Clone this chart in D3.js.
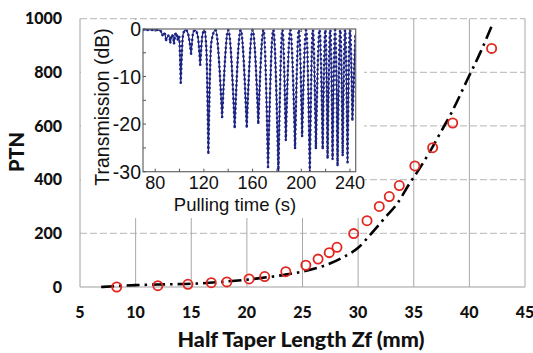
<!DOCTYPE html>
<html><head><meta charset="utf-8">
<script src="https://cdn.jsdelivr.net/npm/d3@7"></script>
<style>
html,body{margin:0;padding:0;background:#fff;}
svg{display:block;}
</style></head>
<body><svg id="chart" width="533" height="353"></svg>
<script>
// ---- main chart data ----
const measZf  = [8.3, 12.0, 14.7, 16.8, 18.2, 20.2, 21.6, 23.5, 25.3, 26.4, 27.4, 28.1, 29.6, 30.8, 31.9, 32.8, 33.7, 35.1, 36.7, 38.5, 42.0];
const measPtn = [0, 5, 10, 16, 19, 30, 39, 57, 81, 104, 128, 148, 199, 247, 300, 337, 378, 451, 519, 611, 889];
const fitZf  = [6.9, 10, 13, 15, 18, 21, 23.6, 25.7, 27, 28.7, 30, 31.2, 32.5, 33.5, 34.6, 35.5, 36.5, 37.4, 38.4, 39.8, 41, 42];
const fitPtn = [0, 7, 10, 12, 20, 32, 47, 64, 80, 112, 146, 200, 262, 310, 384, 440, 508, 575, 650, 771, 875, 972];
const xTickVals = [5, 10, 15, 20, 25, 30, 35, 40, 45];
const yTickVals = [0, 200, 400, 600, 800, 1000];
const xTitle = "Half Taper Length Zf (mm)";
const yTitle = "PTN";

// ---- inset data (transmission vs pulling time) ----
const insetTime = [70, 80, 84, 86, 87.5, 89, 91, 92.5, 94, 95.5, 97, 98.5, 99.6, 101, 103, 105, 107, 109.5, 111.5, 113, 115, 117, 119, 120.5, 122, 123.7, 126, 129.5,
  135, 140, 145.3, 150.2, 155.2, 160, 164.7, 169, 172.7, 177, 181.2, 184.5, 187.3, 191, 194.9, 198, 200.7, 204, 207, 209.5, 212, 215, 217.6, 219.8, 221.6, 223.8, 225.7, 227.8, 229.8, 232, 234, 236, 238, 240, 242, 244.5];
const insetDb = [-0.2, -0.2, -0.3, -1.3, -0.8, -2.3, -1.4, -2.8, -1.2, -3.0, -0.8, -2.2, -1.5, -11.3, -1.0, -0.2, -1.0, -5.2, -0.5, -0.3, -1.5, -7.5, -1.0, -0.3, -4.0, -26, -3.0, -0.2,
  -18.5, -0.2, -20.6, -0.2, -20.5, -0.2, -19.7, -0.2, -29, -0.2, -30, -0.2, -23.3, -0.2, -25, -0.2, -22.5, -0.2, -30, -0.2, -25, -0.2, -25, -0.2, -27, -0.2, -27.3, -0.2, -28.6, -0.2, -26.5, -0.2, -28, -0.2, -19, -1.0];
const insetXTicks = [80, 120, 160, 200, 240];
const insetYTicks = [0, -10, -20, -30];
const insetXTitle = "Pulling time (s)";
const insetYTitle = "Transmission (dB)";

const svg = d3.select("#chart");
const W = 533, H = 353;
const plot = {l: 80, r: 525, t: 18.6, b: 287};

const x = d3.scaleLinear().domain([5, 45]).range([plot.l, plot.r]);
const y = d3.scaleLinear().domain([0, 1000]).range([plot.b, plot.t]);

svg.append("rect").attr("width", W).attr("height", H).attr("fill", "#fff");

// horizontal dashed gridlines
svg.append("g").selectAll("line").data(yTickVals.filter(v => v > 0)).join("line")
  .attr("x1", plot.l).attr("x2", plot.r)
  .attr("y1", d => y(d)).attr("y2", d => y(d))
  .attr("stroke", "#c4c4c4").attr("stroke-width", 1.2).attr("stroke-dasharray", "7,3");
// vertical solid gridlines
svg.append("g").selectAll("line").data(xTickVals.filter(v => v > 5)).join("line")
  .attr("x1", d => x(d)).attr("x2", d => x(d))
  .attr("y1", plot.t).attr("y2", plot.b)
  .attr("stroke", "#a8a8a8").attr("stroke-width", 1);
// axis lines
svg.append("line").attr("x1", plot.l).attr("x2", plot.l).attr("y1", plot.t).attr("y2", plot.b)
  .attr("stroke", "#a0a0a0").attr("stroke-width", 1);
svg.append("line").attr("x1", plot.l).attr("x2", plot.r).attr("y1", plot.b).attr("y2", plot.b)
  .attr("stroke", "#a0a0a0").attr("stroke-width", 1.2);

// tick labels
const mainFont = "Lato, 'Open Sans', sans-serif";
svg.append("g").selectAll("text").data(yTickVals).join("text")
  .attr("x", 62).attr("y", d => y(d) + 5.8)
  .attr("text-anchor", "end").attr("font-family", mainFont).attr("font-weight", "900")
  .attr("font-size", 16).attr("fill", "#111").text(d => d);
svg.append("g").selectAll("text").data(xTickVals).join("text")
  .attr("x", d => x(d)).attr("y", 317.5)
  .attr("text-anchor", "middle").attr("font-family", mainFont).attr("font-weight", "900")
  .attr("font-size", 16).attr("fill", "#111").text(d => d);
svg.append("text").attr("x", 301).attr("y", 347).attr("text-anchor", "middle")
  .attr("font-family", mainFont).attr("font-weight", "900").attr("font-size", 21.5)
  .attr("fill", "#111").text(xTitle);
svg.append("text").attr("transform", "translate(24,152) rotate(-90)").attr("text-anchor", "middle")
  .attr("font-family", mainFont).attr("font-weight", "900").attr("font-size", 20)
  .attr("fill", "#111").text(yTitle);

// ---- inset ----
svg.append("rect").attr("x", 81).attr("y", 20).attr("width", 283).attr("height", 198).attr("fill", "#fff");
const ip = {l: 143, r: 355.7, t: 29, b: 171.7};
const ix = d3.scaleLinear().domain([70, 244.7]).range([ip.l, ip.r]);
const iy = d3.scaleLinear().domain([0, -30]).range([ip.t, ip.b]);

svg.append("defs").append("clipPath").attr("id", "iclip")
  .append("rect").attr("x", ip.l).attr("y", ip.t - 2).attr("width", ip.r - ip.l).attr("height", ip.b - ip.t + 2);

// trace: split at local minima so dips stay sharp, peaks stay rounded
const pts = insetTime.map((t, i) => [t, insetDb[i]]);
const cuts = [0];
for (let i = 1; i < pts.length - 1; i++) {
  if (pts[i][1] < pts[i - 1][1] && pts[i][1] < pts[i + 1][1]) cuts.push(i);
}
cuts.push(pts.length - 1);
const lineGen = d3.line().x(d => ix(d[0])).y(d => iy(d[1])).curve(d3.curveMonotoneX);
let dStr = "";
for (let k = 0; k < cuts.length - 1; k++) {
  dStr += lineGen(pts.slice(cuts[k], cuts[k + 1] + 1));
}
const traceG = svg.append("g").attr("clip-path", "url(#iclip)");
traceG.append("path").attr("d", dStr).attr("fill", "none")
  .attr("stroke", "#1c2383").attr("stroke-width", 1.2);
traceG.append("path").attr("d", dStr).attr("fill", "none")
  .attr("stroke", "#1c2383").attr("stroke-width", 2.6).attr("stroke-linecap", "round")
  .attr("stroke-dasharray", "0.1,4.5");

// inset frame
svg.append("rect").attr("x", ip.l).attr("y", ip.t).attr("width", ip.r - ip.l).attr("height", ip.b - ip.t)
  .attr("fill", "none").attr("stroke", "#666").attr("stroke-width", 1.2);
// inset ticks (inward)
const bottomTicks = d3.range(80, 245, 20);
svg.append("g").selectAll("line").data(bottomTicks).join("line")
  .attr("x1", d => ix(d)).attr("x2", d => ix(d)).attr("y1", ip.b).attr("y2", ip.b - 3)
  .attr("stroke", "#555");
svg.append("g").selectAll("line").data(insetXTicks).join("line")
  .attr("x1", d => ix(d)).attr("x2", d => ix(d)).attr("y1", ip.t).attr("y2", ip.t + 3)
  .attr("stroke", "#555");
const leftTicks = d3.range(0, -31, -5);
svg.append("g").selectAll("line").data(leftTicks).join("line")
  .attr("x1", ip.l).attr("x2", ip.l + 3).attr("y1", d => iy(d)).attr("y2", d => iy(d))
  .attr("stroke", "#555");

const insetFont = "'Liberation Sans', Arial, sans-serif";
svg.append("g").selectAll("text").data(insetYTicks).join("text")
  .attr("x", 141).attr("y", d => iy(d) + 7)
  .attr("text-anchor", "end").attr("font-family", insetFont).attr("font-size", 19.5)
  .attr("fill", "#111").text(d => d);
svg.append("g").selectAll("text").data(insetXTicks).join("text")
  .attr("x", d => ix(d)).attr("y", 189)
  .attr("text-anchor", "middle").attr("font-family", insetFont).attr("font-size", 18)
  .attr("fill", "#111").text(d => d);
svg.append("text").attr("x", 235).attr("y", 210.5).attr("text-anchor", "middle")
  .attr("font-family", insetFont).attr("font-size", 18.5).attr("fill", "#111").text(insetXTitle);
svg.append("text").attr("transform", "translate(109,107) rotate(-90)").attr("text-anchor", "middle")
  .attr("font-family", insetFont).attr("font-size", 19.5).attr("fill", "#111").text(insetYTitle);

// ---- fit curve & measured points ----
const fitLine = d3.line().x((d, i) => x(fitZf[i])).y((d, i) => y(fitPtn[i])).curve(d3.curveMonotoneX);
svg.append("path").attr("d", fitLine(fitZf)).attr("fill", "none")
  .attr("stroke", "#000").attr("stroke-width", 2.6).attr("stroke-dasharray", "13,5,2.5,5");
svg.append("g").selectAll("circle").data(measZf).join("circle")
  .attr("cx", d => x(d)).attr("cy", (d, i) => y(measPtn[i])).attr("r", 4.6)
  .attr("fill", "none").attr("stroke", "#e3261f").attr("stroke-width", 1.8);
</script>
</body></html>
